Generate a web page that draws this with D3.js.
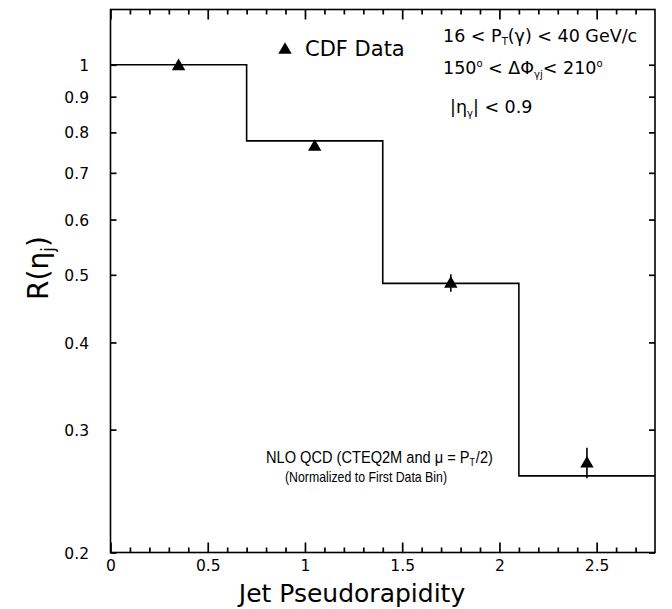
<!DOCTYPE html>
<html><head><meta charset="utf-8">
<script src="https://cdn.jsdelivr.net/npm/d3@7"></script>
<style>body{margin:0;background:#fff}svg{display:block}</style>
</head><body>
<script>
const binEdges = [0, 0.7, 1.4, 2.1, 2.8];
const theoryValues = [1.0, 0.778, 0.486, 0.2575];
const dataEta = [0.35, 1.05, 1.75, 2.45];
const dataValues = [0.998, 0.765, 0.487, 0.269];
const dataErrLow = [0.003, 0.006, 0.014, 0.0135];
const dataErrHigh = [0.003, 0.006, 0.014, 0.0135];
const yTickValues = [0.2, 0.3, 0.4, 0.5, 0.6, 0.7, 0.8, 0.9, 1];
const yTickLabels = ["0.2", "0.3", "0.4", "0.5", "0.6", "0.7", "0.8", "0.9", "1"];
const xTickValues = [0, 0.5, 1, 1.5, 2, 2.5];
const xMinorValues = [0.1, 0.2, 0.3, 0.4, 0.6, 0.7, 0.8, 0.9, 1.1, 1.2, 1.3, 1.4, 1.6, 1.7, 1.8, 1.9, 2.1, 2.2, 2.3, 2.4, 2.6, 2.7];
const xTickLabels = ["0", "0.5", "1", "1.5", "2", "2.5"];

const W = 672, H = 609;
const L = 110.5, R = 655, T = 9.5, B = 552.5;
const svg = d3.select("body").append("svg").attr("width", W).attr("height", H);
const x = d3.scaleLinear().domain([0, 2.8]).range([L, R]);
const y = d3.scaleLog().domain([0.2, 1.2]).range([B, T]);
const font = "'DejaVu Sans', sans-serif";
const lfont = "'DejaVu Sans', sans-serif";
const nfont = "'Liberation Sans', Arial, sans-serif";

function styleAxis(sel) {
  sel.select(".domain").remove();
  sel.selectAll(".tick line").attr("stroke", "#000").attr("stroke-width", 1.7);
  sel.selectAll("text").attr("fill", "#000");
}

// frame
svg.append("rect").attr("x", L).attr("y", T).attr("width", R - L).attr("height", B - T)
  .attr("fill", "none").attr("stroke", "#000").attr("stroke-width", 1.6);

// bottom axis (major with labels, minor)
svg.append("g").attr("transform", `translate(0,${B})`)
  .call(d3.axisBottom(x).tickValues(xTickValues).tickSize(-10).tickPadding(7.5)
    .tickFormat((d, i) => xTickLabels[i]))
  .call(styleAxis)
  .call(s => s.selectAll("text").attr("font-family", font).attr("font-size", 15.5));
svg.append("g").attr("transform", `translate(0,${B})`)
  .call(d3.axisBottom(x).tickValues(xMinorValues).tickSize(-5).tickFormat(""))
  .call(styleAxis);
// top axis
svg.append("g").attr("transform", `translate(0,${T})`)
  .call(d3.axisTop(x).tickValues(xTickValues).tickSize(-10).tickFormat(""))
  .call(styleAxis);
svg.append("g").attr("transform", `translate(0,${T})`)
  .call(d3.axisTop(x).tickValues(xMinorValues).tickSize(-5).tickFormat(""))
  .call(styleAxis);
// left axis
svg.append("g").attr("transform", `translate(${L},0)`)
  .call(d3.axisLeft(y).tickValues(yTickValues).tickSize(-6).tickPadding(L - 89)
    .tickFormat((d, i) => yTickLabels[i]))
  .call(styleAxis)
  .call(s => s.selectAll("text").attr("font-family", font).attr("font-size", 15.5).attr("dy", "0.36em"));
// right axis
svg.append("g").attr("transform", `translate(${R},0)`)
  .call(d3.axisRight(y).tickValues(yTickValues).tickSize(-6).tickFormat(""))
  .call(styleAxis);

// theory step line
const stepPts = [];
theoryValues.forEach((v, i) => { stepPts.push([binEdges[i], v]); stepPts.push([binEdges[i + 1], v]); });
svg.append("path").datum(stepPts)
  .attr("d", d3.line().x(d => x(d[0])).y(d => y(d[1])))
  .attr("fill", "none").attr("stroke", "#000").attr("stroke-width", 1.6);

// data error bars
svg.append("g").selectAll("line").data(dataEta).join("line")
  .attr("x1", d => x(d)).attr("x2", d => x(d))
  .attr("y1", (d, i) => y(dataValues[i] + dataErrHigh[i]))
  .attr("y2", (d, i) => y(dataValues[i] - dataErrLow[i]))
  .attr("stroke", "#000").attr("stroke-width", 1.6);
// triangles
const tri = d3.symbol().type(d3.symbolTriangle).size(78);
svg.append("g").selectAll("path").data(dataEta).join("path")
  .attr("transform", (d, i) => `translate(${x(d)},${y(dataValues[i]) + 1})`)
  .attr("d", tri).attr("fill", "#000");

// legend
svg.append("path").attr("transform", "translate(285,50)").attr("d", tri).attr("fill", "#000");
svg.append("text").attr("x", 305).attr("y", 56).attr("font-family", lfont).attr("font-size", 21).text("CDF Data");

// cuts text
const ct = svg.append("g").attr("font-family", font).attr("font-size", 17.5);
const t1 = ct.append("text").attr("x", 443).attr("y", 42);
t1.append("tspan").text("16 < P");
t1.append("tspan").attr("font-size", 10).attr("dy", 3).text("T");
t1.append("tspan").attr("dy", -3).text("(γ) < 40 GeV/c");
const t2 = ct.append("text").attr("x", 443).attr("y", 74);
t2.append("tspan").text("150");
t2.append("tspan").attr("font-size", 10).attr("dy", -7).text("o");
t2.append("tspan").attr("dy", 7).text(" < ΔΦ");
t2.append("tspan").attr("font-size", 10).attr("dy", 4).text("γj");
t2.append("tspan").attr("dy", -4).text("< 210");
t2.append("tspan").attr("font-size", 10).attr("dy", -7).text("o");
const t3 = ct.append("text").attr("x", 450).attr("y", 113);
t3.append("tspan").text("|η");
t3.append("tspan").attr("font-size", 10).attr("dy", 4).text("γ");
t3.append("tspan").attr("dy", -4).text("| < 0.9");

// NLO text
const nt = svg.append("text").attr("transform", "translate(266,463) scale(0.885,1)")
  .attr("font-family", nfont).attr("font-size", 16.5);
nt.append("tspan").text("NLO QCD (CTEQ2M and μ = P");
nt.append("tspan").attr("font-size", 10).attr("dy", 3).text("T");
nt.append("tspan").attr("dy", -3).attr("dx", 1).text("/2)");
svg.append("text").attr("x", 285).attr("y", 482).attr("font-family", nfont).attr("font-size", 14.5)
  .attr("textLength", 162).attr("lengthAdjust", "spacingAndGlyphs")
  .text("(Normalized to First Data Bin)");

// axis labels
svg.append("text").attr("x", 352).attr("y", 602).attr("text-anchor", "middle")
  .attr("font-family", lfont).attr("font-size", 25).text("Jet Pseudorapidity");
const yl = svg.append("text").attr("transform", "translate(48,268) rotate(-90)").attr("text-anchor", "middle")
  .attr("font-family", lfont).attr("font-size", 28);
yl.append("tspan").text("R(η");
yl.append("tspan").attr("font-size", 17).attr("dy", 6).text("j");
yl.append("tspan").attr("dy", -6).text(")");
</script>
</body></html>
